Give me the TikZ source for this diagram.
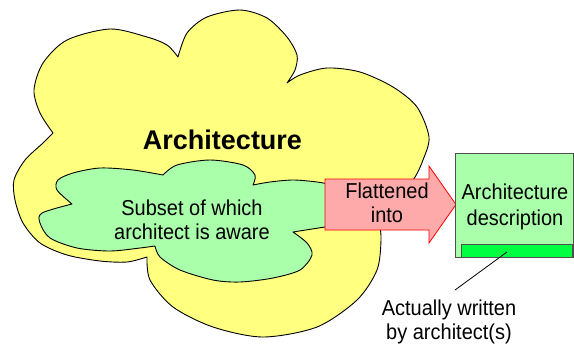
\documentclass[tikz,border=0pt]{standalone}
\usepackage{fontspec}
\setmainfont{Liberation Sans}
\usepackage{graphicx}
\definecolor{yel}{HTML}{FFFF80}
\definecolor{lgreen}{HTML}{AAFFAA}
\definecolor{pinkfill}{HTML}{FFAAAA}
\definecolor{bgreen}{HTML}{00FF40}
\definecolor{boxgray}{HTML}{505050}
\newcommand\vtext[1]{\scalebox{1}[1.08]{\begin{tabular}[t]{@{}c@{}}#1\end{tabular}}}
\tikzset{
  cloudline/.style={draw=black, line width=0.9pt, line join=round},
  txt/.style={inner sep=0pt, anchor=base},
  fa/.style={font=\fontsize{20}{23.1}\selectfont},
  fb/.style={font=\fontsize{20}{24.1}\selectfont},
}
\begin{document}
\begin{tikzpicture}[x=1pt,y=-1pt]
\useasboundingbox (0,0) rectangle (574,346);
% big cloud
\filldraw[cloudline, fill=yel] (53,133)
 -- plot[smooth] coordinates {(53,133) (40,113) (34,90) (43,63) (67,40) (110,29) (147,37) (167,45) (178,57)}
 -- plot[smooth] coordinates {(178,57) (187,33) (207,17) (240,10) (267,18) (287,37) (297,55) (295,70) (287,83)}
 -- plot[smooth] coordinates {(287,83) (300,75) (327,68) (360,72) (393,87) (417,107) (429,137) (423,160) (413,180) (395,195) (372,200)}
 -- plot[smooth] coordinates {(372,200) (379,222) (381,240) (377,270) (357,300) (317,327) (263,337) (213,327) (173,307) (150,280) (147,257)}
 -- plot[smooth] coordinates {(147,257) (127,262) (100,261) (67,255) (40,243) (23,223) (15,200) (14,180) (25,160) (43,143) (53,133)}
 -- cycle;
% small cloud
\filldraw[cloudline, fill=lgreen] (72,204)
 -- plot[smooth] coordinates {(72,204) (57,190) (58,180) (73,173) (100,168) (133,170) (163,175)}
 -- plot[smooth] coordinates {(163,175) (177,165) (210,160) (243,165) (255,175) (253,185)}
 -- plot[smooth] coordinates {(253,185) (270,182) (293,180) (317,182) (340,186)}
 -- (340,225)
 -- plot[smooth] coordinates {(340,225) (325,227) (293,232)}
 -- plot[smooth] coordinates {(293,232) (307,243) (312,255) (300,270) (273,278) (240,282) (213,280) (180,270) (160,257) (155,246)}
 -- plot[smooth] coordinates {(155,246) (140,248) (110,251) (77,248) (50,238) (40,223) (42,213) (72,204)}
 -- cycle;
% arrow
\filldraw[fill=pinkfill, draw=red, line width=0.8pt, line join=miter]
 (325,179) -- (429,179) -- (429,166) -- (456,204.5) -- (429,243) -- (429,230) -- (325,230) -- cycle;
% box
\node[draw=boxgray, fill=lgreen, line width=1.2pt, minimum width=118pt, minimum height=104pt,
      anchor=north west, inner sep=0pt] (descbox) at (455,153) {};
\node[draw=boxgray, fill=bgreen, line width=1pt, minimum width=111pt, minimum height=13pt,
      anchor=north west, inner sep=0pt] (bar) at (461,244) {};
% texts
\node[txt, font=\fontsize{27}{30}\selectfont\bfseries] (arch) at (222.5,149) {Architecture};
\node[txt, fa] (subset) at (192,215) {\vtext{Subset of which\\architect is aware}};
\node[txt, fa] (flat) at (387,198) {\vtext{Flattened\\into}};
\node[txt, fb] (desc) at (515,199) {\vtext{Architecture\\description}};
\node[txt, fa] (note) at (449,315) {\vtext{Actually written\\by architect(s)}};
% connector
\coordinate (lstart) at (507,252);
\coordinate (lend) at (455,290);
\draw[line width=0.8pt] (lstart) -- (lend);
\end{tikzpicture}
\end{document}
